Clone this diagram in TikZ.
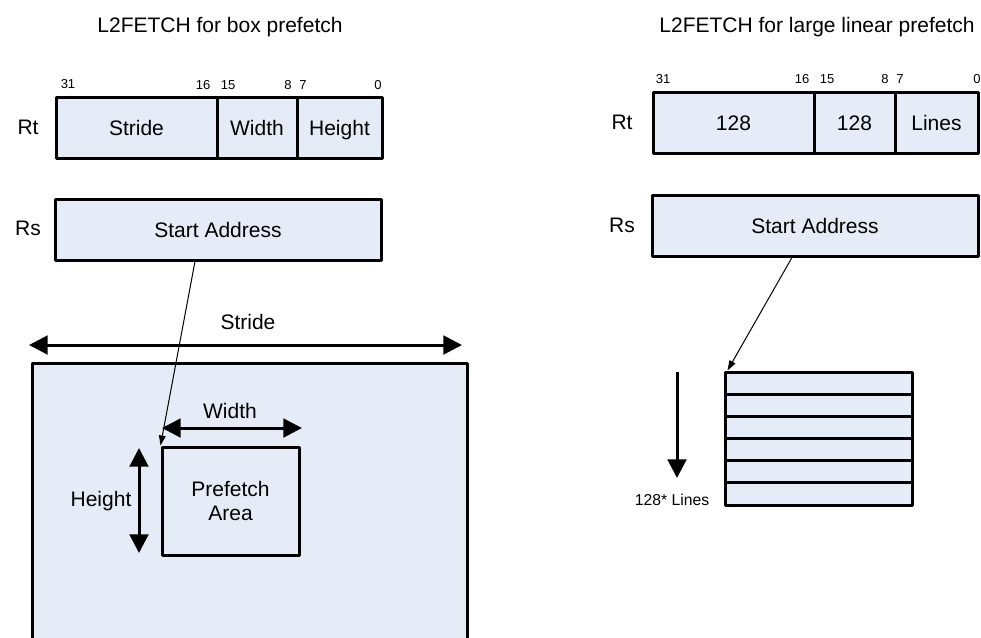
\documentclass[tikz,border=0pt]{standalone}
\usepackage{fontspec}
\setmainfont{Liberation Sans}
\usetikzlibrary{arrows.meta,calc,fit}
\definecolor{boxfill}{RGB}{230,236,247}
\begin{document}
\begin{tikzpicture}[x=0.75pt,y=-0.75pt,
  field/.style={draw=black,line width=2.25pt,fill=boxfill,inner sep=0pt,line join=round},
  lbl/.style={font=\fontsize{15.75}{18}\selectfont,inner sep=0pt,text height=11.3pt,text depth=0pt},
  multilbl/.style={font=\fontsize{15.75}{18}\selectfont,inner sep=0pt,align=center},
  intext/.style={label={[lbl]center:#1}},
  inmulti/.style={label={[multilbl]center:#1}},
  bit/.style={font=\fontsize{9.75}{11}\selectfont,inner sep=0pt,text height=7pt,text depth=0pt},
  small/.style={font=\fontsize{11.8}{13}\selectfont,inner sep=0pt,text height=8.5pt,text depth=0pt},
  dimarrow/.style={line width=2.25pt,{Triangle[length=14pt,width=14pt]}-{Triangle[length=14pt,width=14pt]}},
  onearrow/.style={line width=2.25pt,-{Triangle[length=14pt,width=14pt]}},
  conn/.style={line width=0.75pt,-{Triangle[length=7.5pt,width=5pt]}}]
\useasboundingbox (0,0) rectangle (981,637);
\clip (0,0) rectangle (981,637);

% ---------------- left: box prefetch ----------------
\node[lbl] (titleL) at (220,25) {L2FETCH for box prefetch};

\node[field, fit={(56,97) (217,158)}, intext=Stride] (strideF) {};
\node[field, fit={(217,97) (297,158)}, intext=Width] (widthF) {};
\node[field, fit={(297,97) (382,158)}, intext=Height] (heightF) {};
\node[lbl] (rtL) at (28,127) {Rt};
\node[bit] (bL31) at (68,84) {31};
\node[bit] (bL16) at (203,85) {16};
\node[bit] (bL15) at (228,85) {15};
\node[bit] (bL8) at (288,85) {8};
\node[bit] (bL7) at (303,85) {7};
\node[bit] (bL0) at (378,85) {0};

\node[field, fit={(55,199) (381,260)}, intext={Start Address}] (rsL) {};
\node[lbl] (rsLlbl) at (28,228) {Rs};

\node[lbl] (strideLbl) at (248,322) {Stride};
\coordinate (sl) at (29,345);
\coordinate (sr) at (462,345);
\node[field, fit={(32,363) (467,700)}] (mem) {};
\draw[dimarrow] (sl) -- (sr);

\node[field, fit={(162,447) (299,555)}, inmulti={Prefetch\\Area}] (pf) {};
\node[lbl] (widthLbl) at (230,411) {Width};
\coordinate (wl) at (162,428);
\coordinate (wr) at (302,428);
\draw[dimarrow] (wl) -- (wr);
\node[lbl] (heightLbl) at (101,499) {Height};
\coordinate (ht) at (139,448);
\coordinate (hb) at (139,553);
\draw[dimarrow] (ht) -- (hb);

\draw[conn] ($(rsL.south west)!0.43!(rsL.south east)$) -- (pf.north west);

% ---------------- right: large linear prefetch ----------------
\node[lbl] (titleR) at (817,25) {L2FETCH for large linear prefetch};

\node[field, fit={(653,92) (814,153)}, intext=128] (f128a) {};
\node[field, fit={(814,92) (895,153)}, intext=128] (f128b) {};
\node[field, fit={(895,92) (978,153)}, intext=Lines] (flines) {};
\node[lbl] (rtR) at (622,122) {Rt};
\node[bit] (bR31) at (663,79) {31};
\node[bit] (bR16) at (802,79) {16};
\node[bit] (bR15) at (827,79) {15};
\node[bit] (bR8) at (885,79) {8};
\node[bit] (bR7) at (900,79) {7};
\node[bit] (bR0) at (977,79) {0};

\node[field, fit={(652,195) (978,256)}, intext={Start Address}] (rsR) {};
\node[lbl] (rsRlbl) at (622,225) {Rs};

\foreach \i in {0,...,5} {
  \node[field, fit={(725,{372+\i*22.17}) (912,{372+(\i+1)*22.17})}] (row\i) {};
}
\coordinate (dt) at (677,372);
\coordinate (db) at (677,478);
\draw[onearrow] (dt) -- (db);
\node[small] (linesLbl) at (672,500) {128* Lines};

\draw[conn] ($(rsR.south west)!0.43!(rsR.south east)$) -- ($(row0.north west)+(4,0)$);
\end{tikzpicture}
\end{document}
